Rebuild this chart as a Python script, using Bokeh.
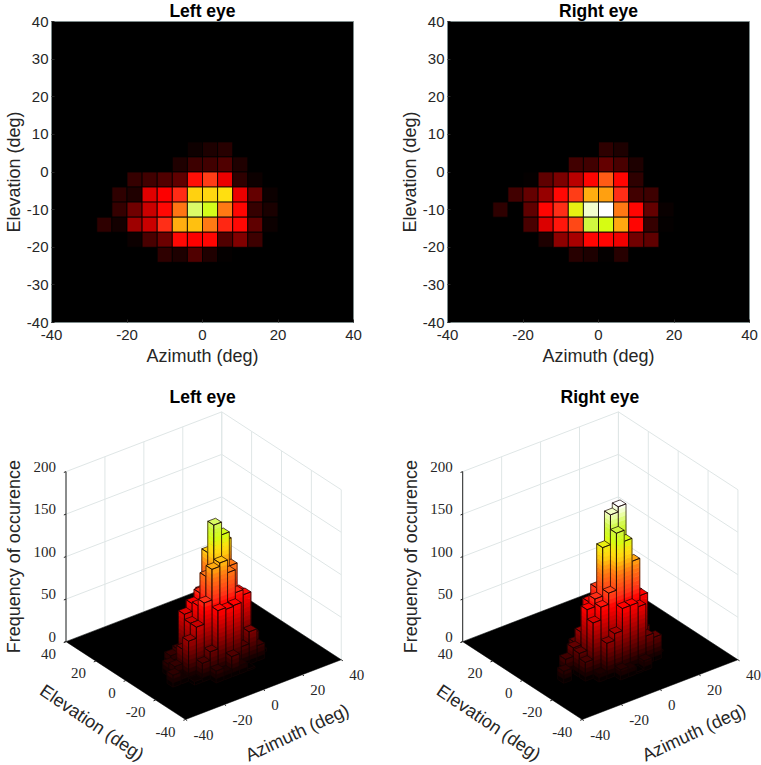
import math
import numpy as np
from bokeh.embed import file_html
from bokeh.layouts import column, row
from bokeh.models import ColumnDataSource, FixedTicker, Label, LabelSet, LinearColorMapper, Range1d
from bokeh.plotting import figure
from bokeh.resources import INLINE

# ---- data ----
az_edges = [-28, -24, -20, -16, -12, -8, -4, 0, 4, 8, 12, 16, 20]
el_edges = [8, 4, 0, -4, -8, -12, -16, -20, -24]
left_r1 = [0, 0, 0, 0, 0, 0, 5, 9, 12, 0, 0, 0]
left_r2 = [0, 0, 0, 0, 0, 10, 18, 20, 24, 10, 0, 0]
left_r3 = [0, 0, 16, 20, 24, 28, 78, 90, 70, 14, 4, 0]
left_r4 = [0, 14, 10, 66, 75, 84, 128, 131, 135, 70, 30, 4]
left_r5 = [0, 16, 33, 60, 77, 108, 165, 150, 110, 76, 16, 8]
left_r6 = [14, 6, 47, 60, 85, 121, 125, 110, 83, 77, 28, 4]
left_r7 = [0, 0, 4, 22, 32, 77, 75, 76, 24, 38, 18, 0]
left_r8 = [0, 0, 0, 0, 14, 9, 24, 10, 2, 0, 0, 0]
right_r1 = [0, 0, 0, 0, 0, 0, 0, 14, 9, 0, 0, 0]
right_r2 = [0, 0, 0, 0, 0, 20, 20, 30, 22, 9, 0, 0]
right_r3 = [0, 0, 2, 28, 37, 55, 76, 100, 76, 14, 0, 0]
right_r4 = [0, 20, 30, 45, 77, 90, 121, 118, 85, 20, 18, 0]
right_r5 = [14, 0, 28, 76, 85, 142, 177, 183, 110, 76, 30, 3]
right_r6 = [0, 0, 22, 65, 80, 93, 160, 147, 120, 76, 16, 2]
right_r7 = [0, 0, 0, 9, 42, 50, 76, 76, 71, 33, 28, 0]
right_r8 = [0, 0, 0, 0, 0, 12, 9, 2, 12, 0, 0, 0]
left_counts = [left_r1, left_r2, left_r3, left_r4, left_r5, left_r6, left_r7, left_r8]
right_counts = [right_r1, right_r2, right_r3, right_r4, right_r5, right_r6, right_r7, right_r8]

map_ticks_x = [-40, -20, 0, 20, 40]
map_ticks_y = [-40, -30, -20, -10, 0, 10, 20, 30, 40]
floor_ticks = [-40, -20, 0, 20, 40]
z_ticks = [0, 50, 100, 150, 200]
titles = ["Left eye", "Right eye"]
x_title = "Azimuth (deg)"
y_title = "Elevation (deg)"
z_title = "Frequency of occurence"

# ---- colour map ----
stop_v = [0, 75, 85, 110, 120, 128, 135, 148, 160, 170, 183]
stop_c = ["#000000", "#ff0000", "#ff3018", "#ff7a14", "#ffa810", "#ffd010", "#ffe010",
          "#d4ff14", "#d0f840", "#e6ff90", "#ffffff"]
ZMAX = 183.0
def _rgb(h):
    return [int(h[i:i + 2], 16) for i in (1, 3, 5)]
_levels = np.linspace(0, ZMAX, 256)
_chan = [np.interp(_levels, stop_v, [_rgb(c)[k] for c in stop_c]) for k in range(3)]
palette = ["#%02x%02x%02x" % (int(_chan[0][i]), int(_chan[1][i]), int(_chan[2][i])) for i in range(256)]
def colour(z):
    return palette[min(255, max(0, int(z / ZMAX * 255)))]

FONT = "Liberation Sans"
INK = "#262626"
EDGE = "#7d8a8a"
TITLE_PX = "17.5px"
LABEL_PX = "18px"
TICK_PX = "15px"


def style_title(p):
    p.title.text_font = FONT
    p.title.text_font_size = TITLE_PX
    p.title.text_font_style = "bold"
    p.title.text_color = "#000000"
    p.title.text_line_height = 1.0


def heatmap(counts, title, fl, fw, fr):
    p = figure(frame_width=fw, frame_height=301, output_backend="svg", toolbar_location=None,
               x_range=Range1d(-40, 40), y_range=Range1d(-40, 40),
               min_border_left=fl, min_border_right=fr, min_border_top=21, min_border_bottom=58,
               background_fill_color="black", title=title)
    l, r, t, b, v = [], [], [], [], []
    for i, rw in enumerate(counts):
        for j, c in enumerate(rw):
            if c > 0:
                l.append(az_edges[j]); r.append(az_edges[j + 1])
                t.append(el_edges[i]); b.append(el_edges[i + 1]); v.append(c)
    mapper = LinearColorMapper(palette=palette, low=0, high=ZMAX)
    src = ColumnDataSource(dict(l=l, r=r, t=t, b=b, v=v))
    p.quad(left="l", right="r", top="t", bottom="b", source=src,
           fill_color={"field": "v", "transform": mapper}, line_color="black", line_width=0.8)
    p.grid.visible = False
    p.outline_line_color = EDGE
    p.title.align = "center"
    p.title.vertical_align = "top"
    p.title.standoff = -2
    style_title(p)
    p.xaxis.ticker = FixedTicker(ticks=map_ticks_x)
    p.yaxis.ticker = FixedTicker(ticks=map_ticks_y)
    p.xaxis.major_label_overrides = {t_: str(t_) for t_ in map_ticks_x}
    p.yaxis.major_label_overrides = {t_: str(t_) for t_ in map_ticks_y}
    p.xaxis.axis_label = x_title
    p.yaxis.axis_label = y_title
    for ax in (p.xaxis[0], p.yaxis[0]):
        ax.axis_line_color = EDGE
        ax.major_tick_line_color = INK
        ax.major_tick_in = 3
        ax.major_tick_out = 0
        ax.minor_tick_line_color = None
        ax.major_label_text_font = FONT
        ax.major_label_text_font_size = TICK_PX
        ax.major_label_text_color = INK
        ax.axis_label_text_font = FONT
        ax.axis_label_text_font_size = LABEL_PX
        ax.axis_label_text_font_style = "normal"
        ax.axis_label_text_color = INK
    p.xaxis[0].major_label_standoff = 7
    p.yaxis[0].major_label_standoff = 3
    p.xaxis[0].axis_label_standoff = 3
    p.yaxis[0].axis_label_standoff = 0
    return p


# ---- view(-37.5, 30) projection of the unit cube ----
AZ = math.radians(37.5)
EL = math.radians(30)
S = 196.3
def proj(az, el, z):
    u = (az + 40) / 80.0
    v = (el + 40) / 80.0
    w = z / 200.0
    return (math.cos(AZ) * u - math.sin(AZ) * v,
            math.sin(EL) * (math.sin(AZ) * u + math.cos(AZ) * v) + math.cos(EL) * w)


def bars3d(counts, title, w, cx, title_left):
    """cx: x of the bottom floor corner inside this figure."""
    h = 385
    top = 28
    corner_y = 339
    p = figure(frame_width=w, frame_height=h - top, output_backend="svg", toolbar_location=None,
               x_range=Range1d(-cx / S, (w - cx) / S),
               y_range=Range1d((corner_y - h) / S, (corner_y - top) / S),
               min_border_left=0, min_border_right=0, min_border_top=top, min_border_bottom=0,
               title=title)
    p.axis.visible = False
    p.grid.visible = False
    p.outline_line_color = None
    p.title.align = "left"
    p.title.offset = title_left
    p.title.standoff = 3
    style_title(p)

    gx, gy = [], []
    def seg(a, b):
        pa, pb = proj(*a), proj(*b)
        gx.append([pa[0], pb[0]]); gy.append([pa[1], pb[1]])
    for t in floor_ticks:
        seg((t, 40, 0), (t, 40, 200))
        seg((40, t, 0), (40, t, 200))
    for z in z_ticks:
        seg((-40, 40, z), (40, 40, z))
        seg((40, 40, z), (40, -40, z))
    p.multi_line(gx, gy, line_color="#dfe6e6", line_width=1)

    cs = [proj(-40, -40, 0), proj(40, -40, 0), proj(40, 40, 0), proj(-40, 40, 0)]
    p.patch([c[0] for c in cs], [c[1] for c in cs], fill_color="black", line_color="black", line_width=0.5)

    ax_x, ax_y = [], []
    def axseg(a, b):
        pa, pb = proj(*a), proj(*b)
        ax_x.append([pa[0], pb[0]]); ax_y.append([pa[1], pb[1]])
    axseg((-40, 40, 0), (-40, 40, 200))
    for z in z_ticks:
        axseg((-40, 40, z), (-41.1, 40, z))
    for t in floor_ticks:
        axseg((-40, t, 0), (-41.1, t, 0))
        axseg((t, -40, 0), (t, -41.1, 0))
    p.multi_line(ax_x, ax_y, line_color=INK, line_width=1)

    xs, ys, fc, lc, fa, lw = [], [], [], [], [], []
    def poly(pts, fill, line, alpha, width):
        q = [proj(*pt) for pt in pts]
        xs.append([a[0] for a in q]); ys.append([a[1] for a in q])
        fc.append(fill); lc.append(line); fa.append(alpha); lw.append(width)
    step = 5.0
    rows = sorted(range(len(counts)), key=lambda k: -el_edges[k])
    for j in range(len(az_edges) - 2, -1, -1):
        for i in rows:
            c = counts[i][j]
            if c <= 0:
                continue
            a0, a1 = az_edges[j], az_edges[j + 1]
            e0, e1 = el_edges[i + 1], el_edges[i]
            zb = 0.0
            while zb < c:
                zt = min(c, zb + step)
                col = colour((zb + zt) / 2)
                poly([(a0, e0, zb), (a1, e0, zb), (a1, e0, zt), (a0, e0, zt)], col, col, 1, 0.6)
                poly([(a0, e0, zb), (a0, e1, zb), (a0, e1, zt), (a0, e0, zt)], col, col, 1, 0.6)
                zb = zt
            poly([(a0, e0, c), (a1, e0, c), (a1, e1, c), (a0, e1, c)], colour(c), "#140303", 1, 0.7)
            poly([(a0, e0, 0), (a1, e0, 0), (a1, e0, c), (a0, e0, c)], "#000000", "#140303", 0, 0.7)
            poly([(a0, e0, 0), (a0, e1, 0), (a0, e1, c), (a0, e0, c)], "#000000", "#140303", 0, 0.7)
    src = ColumnDataSource(dict(xs=xs, ys=ys, fc=fc, lc=lc, fa=fa, lw=lw))
    p.patches("xs", "ys", source=src, fill_color="fc", line_color="lc", fill_alpha="fa", line_width="lw")

    def labels(pts, txt, align, dx, dy):
        d = ColumnDataSource(dict(x=[q[0] for q in pts], y=[q[1] for q in pts], t=txt))
        p.add_layout(LabelSet(x="x", y="y", text="t", source=d, text_align=align, text_baseline="middle",
                              x_offset=dx, y_offset=dy, text_font=FONT, text_font_size=TICK_PX, text_color=INK))
    labels([proj(-40, 40, z) for z in z_ticks], [str(z) for z in z_ticks], "right", -10, 5)
    labels([proj(-40, t, 0) for t in floor_ticks], [str(t) for t in floor_ticks], "right", -10, -12)
    labels([proj(t, -40, 0) for t in floor_ticks], [str(t) for t in floor_ticks], "left", 8, -15.5)

    def title3d(txt, anchor, dx, dy, ang):
        q = proj(*anchor)
        p.add_layout(Label(x=q[0], y=q[1], x_offset=dx, y_offset=dy, text=txt, angle=ang,
                           text_align="center", text_baseline="middle", text_font=FONT,
                           text_font_size=LABEL_PX, text_color=INK))
    title3d(z_title, (-40, 40, 100), -51.7, 0, math.pi / 2)
    title3d(y_title, (-40, 0, 0), -33.7, -42, -math.radians(34))
    title3d(x_title, (0, -40, 0), 33.8, -43, math.radians(25))
    return p


p1 = heatmap(left_counts, titles[0], 51, 302, 42)
p2 = heatmap(right_counts, titles[1], 52, 302, 12)
p3 = bars3d(left_counts, titles[0], 395, 185, 169)
p4 = bars3d(right_counts, titles[1], 366, 186.7, 165)

root = column(row(p1, p2, spacing=0), row(p3, p4, spacing=0), spacing=0)
open("out.html", "w").write(file_html(root, INLINE))
